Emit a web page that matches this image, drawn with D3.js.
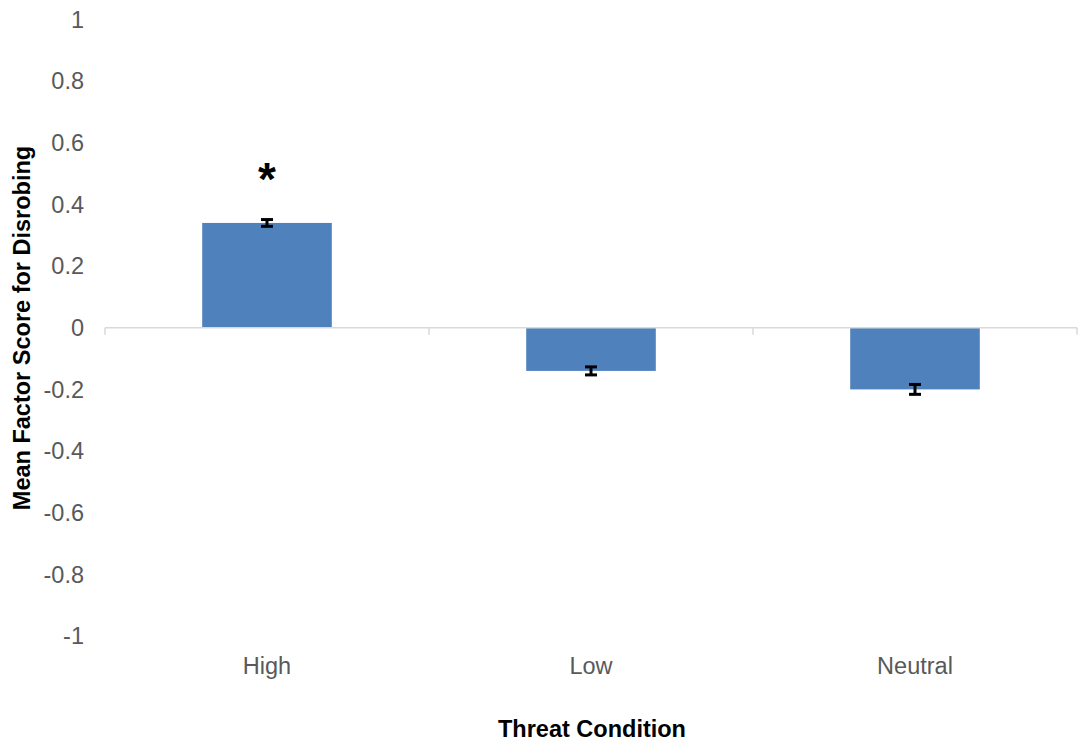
<!DOCTYPE html>
<html><head><meta charset="utf-8">
<script src="https://cdn.jsdelivr.net/npm/d3@7"></script>
<style>body{margin:0;background:#fff}svg{display:block}text{font-family:"Liberation Sans",Arial,sans-serif}</style>
</head><body>
<svg id="c" width="1082" height="742"></svg>
<script>
const categories = ["High", "Low", "Neutral"];
const means = [0.34, -0.14, -0.2];
const errors = [0.011, 0.013, 0.016];
const significant = [true, false, false];
const yTicks = [1, 0.8, 0.6, 0.4, 0.2, 0, -0.2, -0.4, -0.6, -0.8, -1];

const svg = d3.select("#c");
const x = d3.scaleBand().domain(categories).range([105, 1077]).paddingInner(0.6).paddingOuter(0.3);
const y = d3.scaleLinear().domain([-1, 1]).range([636, 19.5]);

// y tick labels
svg.append("g").selectAll("text").data(yTicks).join("text")
  .attr("x", 84).attr("y", d => y(d)).attr("dy", "0.35em")
  .attr("text-anchor", "end").attr("fill", "#595959").style("font-size", "23.5px")
  .text(d => String(d));

// bars
svg.append("g").selectAll("rect").data(categories).join("rect")
  .attr("x", d => x(d)).attr("width", x.bandwidth())
  .attr("y", (d, i) => Math.min(y(means[i]), y(0)))
  .attr("height", (d, i) => Math.abs(y(means[i]) - y(0)))
  .attr("fill", "#4f81bd");

// axis line at zero
const axisG = svg.append("g").attr("stroke", "#d9d9d9").attr("stroke-width", 1.5).attr("fill", "none");
axisG.append("line").attr("x1", 105).attr("x2", 1077).attr("y1", y(0)).attr("y2", y(0));
const tickXs = d3.range(categories.length + 1).map(i => 105 + i * (972 / categories.length));
axisG.selectAll("line.t").data(tickXs).join("line").attr("class", "t")
  .attr("x1", d => d).attr("x2", d => d).attr("y1", y(0)).attr("y2", y(0) + 7);

// error bars
const eg = svg.append("g").attr("stroke", "#000").attr("stroke-width", 3);
categories.forEach((c, i) => {
  const cx = x(c) + x.bandwidth() / 2;
  const hi = y(means[i] + errors[i]), lo = y(means[i] - errors[i]);
  eg.append("line").attr("x1", cx).attr("x2", cx).attr("y1", hi).attr("y2", lo);
  eg.append("line").attr("x1", cx - 6).attr("x2", cx + 6).attr("y1", hi).attr("y2", hi);
  eg.append("line").attr("x1", cx - 6).attr("x2", cx + 6).attr("y1", lo).attr("y2", lo);
});

// significance
svg.append("g").selectAll("text").data(categories.filter((c, i) => significant[i])).join("text")
  .attr("x", d => x(d) + x.bandwidth() / 2).attr("y", 195)
  .attr("text-anchor", "middle").style("font-size", "46px").style("font-weight", "bold")
  .text("*");

// category labels
svg.append("g").selectAll("text").data(categories).join("text")
  .attr("x", d => x(d) + x.bandwidth() / 2).attr("y", 674)
  .attr("text-anchor", "middle").attr("fill", "#595959").style("font-size", "23.5px")
  .text(d => d);

// axis titles
svg.append("text").attr("x", 592).attr("y", 737).attr("text-anchor", "middle")
  .style("font-size", "23.5px").style("font-weight", "bold").text("Threat Condition");
svg.append("text").attr("transform", "translate(30,328) rotate(-90)").attr("text-anchor", "middle")
  .style("font-size", "23.5px").style("font-weight", "bold").text("Mean Factor Score for Disrobing");
</script>
</body></html>
